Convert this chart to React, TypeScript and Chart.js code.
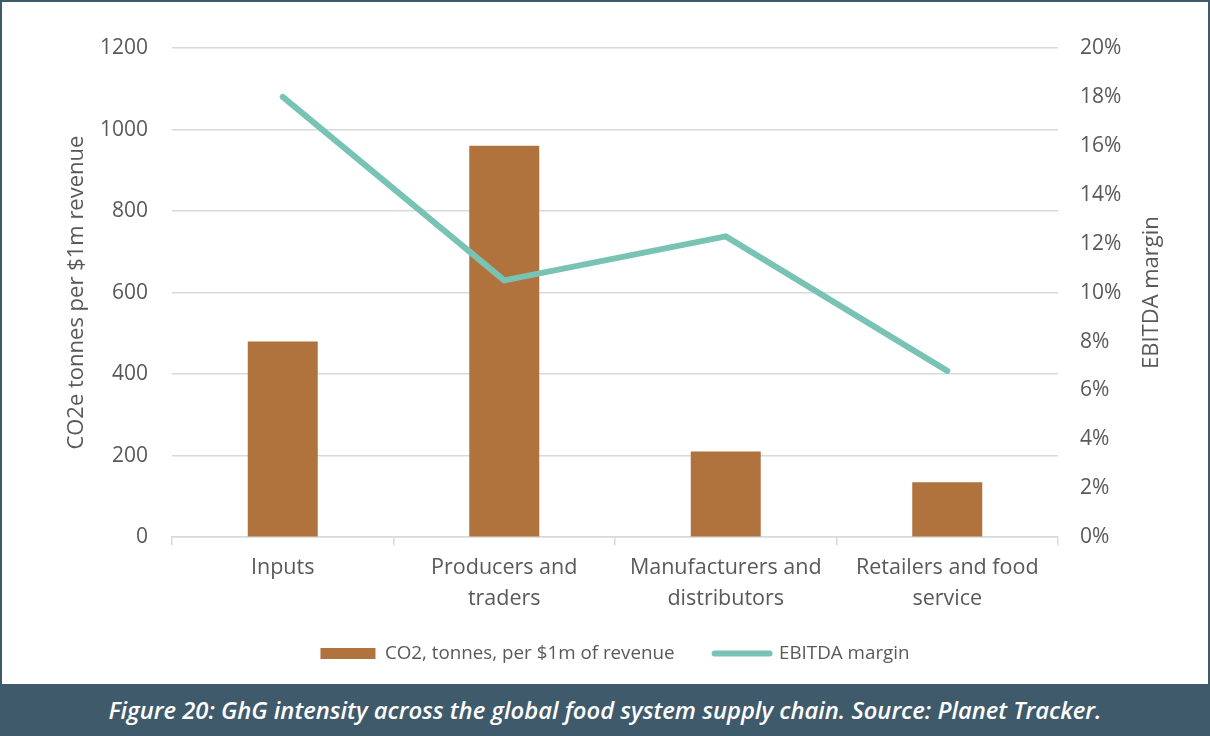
import React, { useEffect, useRef } from 'react';
import { Chart, registerables } from 'chart.js';

Chart.register(...registerables);

const categories: string[][] = [
  ['Inputs'],
  ['Producers and', 'traders'],
  ['Manufacturers and', 'distributors'],
  ['Retailers and food', 'service'],
];
const co2Values = [480, 960, 210, 135];
const ebitdaValues = [18, 10.5, 12.3, 6.8];
const co2Label = 'CO2, tonnes, per $1m of revenue';
const ebitdaLabel = 'EBITDA margin';
const leftTitle = 'CO2e tonnes per $1m revenue';
const rightTitle = 'EBITDA margin';
const caption = 'Figure 20: GhG intensity across the global food system supply chain. Source: Planet Tracker.';

const BAR = '#b1733e';
const LINE = '#79c3b5';
const TEXT = '#595959';
const GRID = '#d9d9d9';
const SLATE = '#3f5b6b';
const FONT = "'Open Sans', sans-serif";

const rightTitlePlugin = {
  id: 'rightTitle',
  afterDraw(chart: any) {
    const { ctx, chartArea } = chart;
    ctx.save();
    ctx.translate(1152, (chartArea.top + chartArea.bottom) / 2);
    ctx.rotate(-Math.PI / 2);
    ctx.font = `22px ${FONT}`;
    ctx.fillStyle = TEXT;
    ctx.textAlign = 'center';
    ctx.textBaseline = 'middle';
    ctx.fillText(rightTitle, 0, 0);
    ctx.restore();
  },
};

const legendShiftPlugin = {
  id: 'legendShift',
  afterLayout(chart: any) {
    const l = chart.legend;
    if (l) {
      l.top -= 21;
      l.bottom -= 21;
      l.left += 10;
      l.right += 10;
    }
  },
};

export default function App() {
  const ref = useRef<HTMLCanvasElement | null>(null);
  useEffect(() => {
    document.body.style.margin = '0';
    const ctx = ref.current!;
    const chart = new Chart(ctx, {
      type: 'bar',
      data: {
        labels: categories,
        datasets: [
          {
            type: 'line',
            label: ebitdaLabel,
            data: ebitdaValues,
            borderColor: LINE,
            backgroundColor: LINE,
            borderWidth: 6,
            borderCapStyle: 'round',
            borderJoinStyle: 'round',
            pointRadius: 0,
            tension: 0,
            yAxisID: 'y1',
            order: 0,
          },
          {
            type: 'bar',
            label: co2Label,
            data: co2Values,
            backgroundColor: BAR,
            borderWidth: 0,
            categoryPercentage: 1,
            barPercentage: 0.316,
            yAxisID: 'y',
            order: 1,
          },
        ],
      },
      plugins: [rightTitlePlugin, legendShiftPlugin],
      options: {
        responsive: false,
        animation: false,
        maintainAspectRatio: false,
        layout: { padding: { top: 48, left: 0, right: 0, bottom: 42 } },
        font: { family: FONT },
        plugins: {
          tooltip: { enabled: false },
          legend: {
            position: 'bottom',
            reverse: true,
            labels: {
              font: { family: FONT, size: 18.8 },
              color: TEXT,
              usePointStyle: true,
              pointStyleWidth: 55,
              boxHeight: 11,
              padding: 40,
              generateLabels: (ch: any) =>
                ch.data.datasets.map((ds: any, i: number) => ({
                  text: ds.label,
                  datasetIndex: i,
                  fillStyle: ds.type === 'bar' ? BAR : LINE,
                  strokeStyle: ds.type === 'bar' ? BAR : LINE,
                  lineWidth: ds.type === 'bar' ? 0 : 6,
                  lineCap: 'round',
                  pointStyle: ds.type === 'bar' ? 'rect' : 'line',
                  fontColor: TEXT,
                  hidden: false,
                })),
            },
          },
        },
        scales: {
          x: {
            grid: {
              offset: true,
              drawOnChartArea: false,
              drawTicks: true,
              tickLength: 8,
              color: GRID,
              lineWidth: 1.5,
            },
            border: { display: true, color: GRID, width: 1.5 },
            ticks: {
              color: TEXT,
              font: { family: FONT, size: 21.5, lineHeight: 1.44 },
              padding: 7,
              maxRotation: 0,
              autoSkip: false,
            },
            afterFit: (s: any) => {
              s.height = 88;
            },
          },
          y: {
            position: 'left',
            min: 0,
            max: 1200,
            ticks: {
              stepSize: 200,
              color: TEXT,
              font: { family: FONT, size: 21 },
              padding: 24,
              callback: (v: any) => String(v),
            },
            grid: { color: GRID, lineWidth: 1.5, drawTicks: false },
            border: { display: false },
            title: {
              display: true,
              text: leftTitle,
              color: TEXT,
              font: { family: FONT, size: 22 },
              padding: { top: 64, bottom: 0 },
            },
            afterFit: (s: any) => {
              s.width = 172;
            },
          },
          y1: {
            position: 'right',
            min: 0,
            max: 20,
            ticks: {
              stepSize: 2,
              color: TEXT,
              font: { family: FONT, size: 21 },
              padding: 22,
              callback: (v: any) => v + '%',
            },
            grid: { drawOnChartArea: false, drawTicks: false },
            border: { display: false },
            afterFit: (s: any) => {
              s.width = 152;
            },
          },
        },
      },
    } as any);
    return () => chart.destroy();
  }, []);

  return (
    <div style={{ position: 'relative', width: 1210, height: 736, overflow: 'hidden', background: '#fff' }}>
      <canvas ref={ref} width={1210} height={736} style={{ position: 'absolute', left: 0, top: 0, width: 1210, height: 736 }} />
      <div
        style={{
          position: 'absolute',
          left: 0,
          top: 0,
          width: 1210,
          height: 736,
          boxSizing: 'border-box',
          border: `2px solid ${SLATE}`,
          pointerEvents: 'none',
        }}
      />
      <div
        style={{
          position: 'absolute',
          left: 0,
          top: 684,
          width: 1210,
          height: 52,
          background: SLATE,
          color: '#ffffff',
          fontFamily: FONT,
          fontStyle: 'italic',
          fontWeight: 600,
          fontSize: 23.8,
          display: 'flex',
          alignItems: 'center',
          justifyContent: 'center',
          whiteSpace: 'nowrap',
        }}
      >
        {caption}
      </div>
    </div>
  );
}
